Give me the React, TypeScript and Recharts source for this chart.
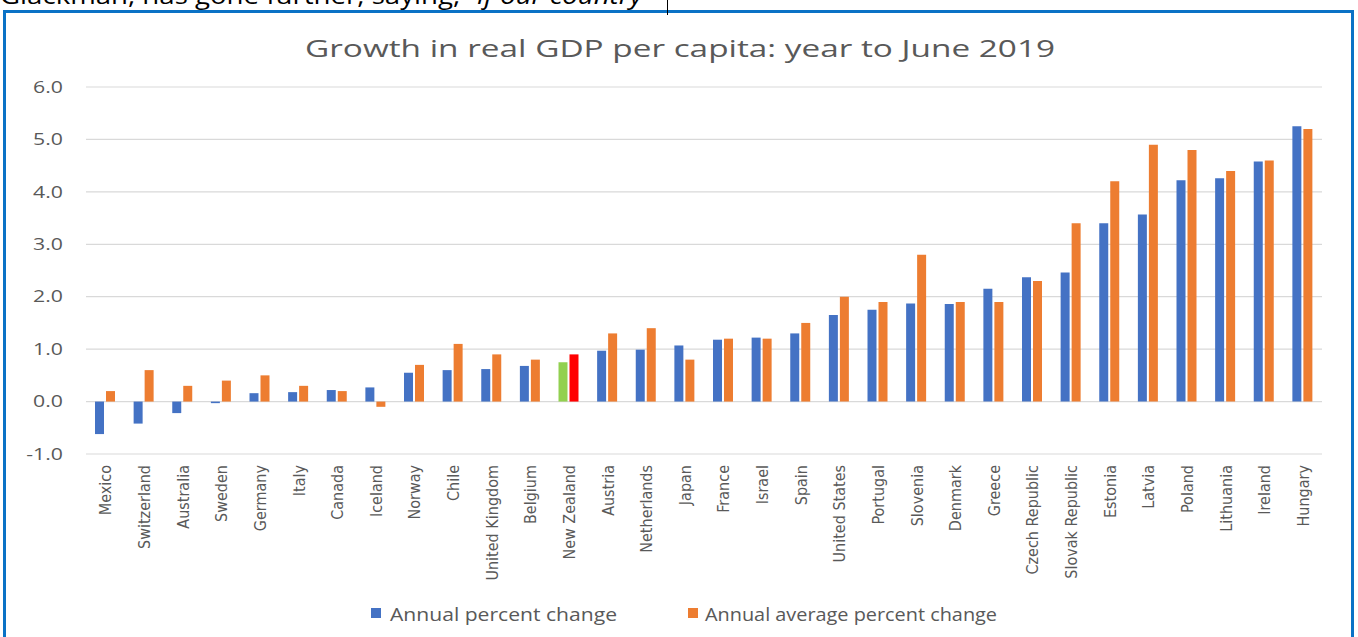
import React from "react";
import { BarChart, Bar, XAxis, YAxis, CartesianGrid, Cell } from "recharts";

const countries = [
  "Mexico", "Switzerland", "Australia", "Sweden", "Germany", "Italy", "Canada", "Iceland",
  "Norway", "Chile", "United Kingdom", "Belgium", "New Zealand", "Austria", "Netherlands",
  "Japan", "France", "Israel", "Spain", "United States", "Portugal", "Slovenia", "Denmark",
  "Greece", "Czech Republic", "Slovak Republic", "Estonia", "Latvia", "Poland", "Lithuania",
  "Ireland", "Hungary",
];
const annualChange = [
  -0.62, -0.42, -0.22, -0.03, 0.16, 0.18, 0.22, 0.27, 0.55, 0.6, 0.62, 0.68, 0.75, 0.97, 0.99,
  1.07, 1.18, 1.22, 1.3, 1.65, 1.75, 1.87, 1.86, 2.15, 2.37, 2.46, 3.4, 3.57, 4.22, 4.26, 4.58, 5.25,
];
const averageChange = [
  0.2, 0.6, 0.3, 0.4, 0.5, 0.3, 0.2, -0.1, 0.7, 1.1, 0.9, 0.8, 0.9, 1.3, 1.4,
  0.8, 1.2, 1.2, 1.5, 2.0, 1.9, 2.8, 1.9, 1.9, 2.3, 3.4, 4.2, 4.9, 4.8, 4.4, 4.6, 5.2,
];
const yTicks = [-1, 0, 1, 2, 3, 4, 5, 6];
const highlightCountry = "New Zealand";

const titleText = "Growth in real GDP per capita: year to June 2019";
const seriesNames = ["Annual percent change", "Annual average percent change"];
const BLUE = "#4472C4";
const ORANGE = "#ED7D31";
const GREEN = "#92D050";
const RED = "#FF0000";
const TEXT = "#595959";
const FONT = "'Open Sans', sans-serif";

const data = countries.map((c, i) => ({
  country: c,
  annual: annualChange[i],
  average: averageChange[i],
}));

const XTick = (props: any) => {
  const { x, y, payload } = props;
  return (
    <text
      x={x}
      y={y}
      transform={`rotate(-90, ${x}, ${y})`}
      textAnchor="end"
      dy="0.38em"
      fill={TEXT}
      fontSize={16}
      fontFamily="'Liberation Sans Narrow', 'DejaVu Sans Condensed', sans-serif"
    >
      {payload.value}
    </text>
  );
};

const YTick = (props: any) => {
  const { x, y, payload } = props;
  const label = Number(payload.value).toFixed(1);
  return (
    <text
      x={x}
      y={y}
      transform={`translate(${x}, ${y}) scale(1.33, 1) translate(${-x}, ${-y})`}
      textAnchor="end"
      dy="0.36em"
      fill={TEXT}
      fontSize={16}
      fontFamily={FONT}
    >
      {label}
    </text>
  );
};

export default function App() {
  return (
    <div
      style={{
        position: "absolute",
        left: 0,
        top: 0,
        width: 1358,
        height: 637,
        overflow: "hidden",
        background: "#fff",
      }}
    >
      <div
        style={{
          position: "absolute",
          left: 3,
          top: 10,
          width: 1345,
          height: 640,
          border: "3px solid #0A72C6",
        }}
      />
      <div style={{ position: "absolute", left: 0, top: 0 }}>
        <BarChart
          width={1358}
          height={637}
          data={data}
          margin={{ top: 87, right: 36, bottom: 0, left: 0 }}
          barSize={9}
          barGap={2}
        >
          <CartesianGrid vertical={false} stroke="#D9D9D9" strokeWidth={1.2} />
          <YAxis
            width={86}
            domain={[-1, 6]}
            ticks={yTicks}
            interval={0}
            axisLine={false}
            tickLine={false}
            tickSize={0}
            tickMargin={23}
            tick={<YTick />}
          />
          <XAxis
            dataKey="country"
            height={183}
            axisLine={false}
            tickLine={false}
            tickSize={0}
            tickMargin={11}
            interval={0}
            tick={<XTick />}
          />
          <Bar dataKey="annual" name={seriesNames[0]} fill={BLUE} isAnimationActive={false}>
            {data.map((d) => (
              <Cell key={d.country} fill={d.country === highlightCountry ? GREEN : BLUE} />
            ))}
          </Bar>
          <Bar dataKey="average" name={seriesNames[1]} fill={ORANGE} isAnimationActive={false}>
            {data.map((d) => (
              <Cell key={d.country} fill={d.country === highlightCountry ? RED : ORANGE} />
            ))}
          </Bar>
        </BarChart>
      </div>
      <svg
        width={1358}
        height={637}
        style={{ position: "absolute", left: 0, top: 0, pointerEvents: "none" }}
      >
        <text
          x={0}
          y={4}
          fontFamily={FONT}
          fontSize={23}
          fill="#000"
          textLength={652}
          lengthAdjust="spacingAndGlyphs"
        >
          Glackman, has gone further, saying, “<tspan fontStyle="italic">If our country</tspan>”
        </text>
        <line x1={667.5} y1={0} x2={667.5} y2={15} stroke="#000" strokeWidth={1} />
        <text
          x={305}
          y={57}
          fontFamily={FONT}
          fontSize={24}
          fill={TEXT}
          textLength={750}
          lengthAdjust="spacingAndGlyphs"
        >
          {titleText}
        </text>
        <rect x={371} y={608} width={10} height={10} fill={BLUE} />
        <text
          x={390}
          y={621}
          fontFamily={FONT}
          fontSize={18}
          fill={TEXT}
          textLength={227}
          lengthAdjust="spacingAndGlyphs"
        >
          {seriesNames[0]}
        </text>
        <rect x={688} y={608} width={10} height={10} fill={ORANGE} />
        <text
          x={705}
          y={621}
          fontFamily={FONT}
          fontSize={18}
          fill={TEXT}
          textLength={292}
          lengthAdjust="spacingAndGlyphs"
        >
          {seriesNames[1]}
        </text>
      </svg>
    </div>
  );
}
